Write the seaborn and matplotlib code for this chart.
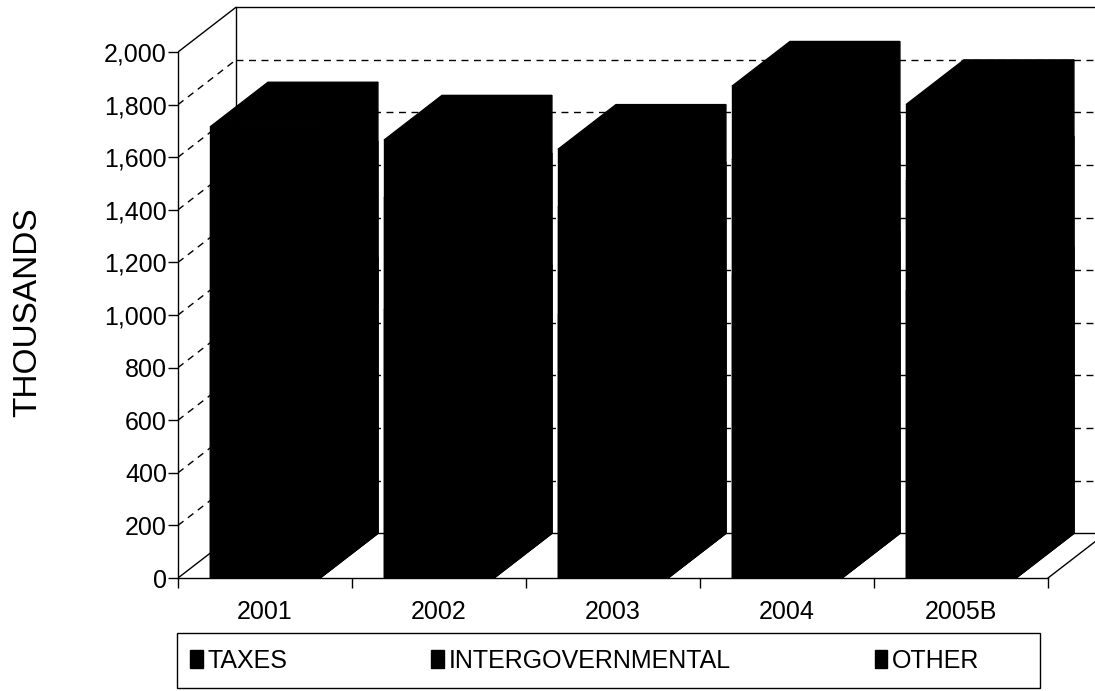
import matplotlib
matplotlib.use("Agg")
import matplotlib.pyplot as plt
import seaborn as sns
import numpy as np
import pandas as pd
from matplotlib.patches import Patch, Polygon, Rectangle

# Revenue by source, in thousands
years = ["2001", "2002", "2003", "2004", "2005B"]
taxes = [1050, 1020, 1000, 1150, 1090]
intergovernmental = [440, 425, 410, 440, 420]
other = [225, 220, 220, 280, 290]
series_names = ["TAXES", "INTERGOVERNMENTAL", "OTHER"]
y_ticks = list(range(0, 2001, 200))

sns.set_theme(style="white")
plt.rcParams["font.family"] = ["Liberation Sans", "DejaVu Sans"]

INK = "black"
BAR_W = 0.632          # front face width, in category units
DX, DY = 0.333, 170    # depth offset of the 3-D box (category units, value units)

df = pd.DataFrame({"year": years, "TAXES": taxes,
                   "INTERGOVERNMENTAL": intergovernmental, "OTHER": other})
cum = df[series_names].cumsum(axis=1)
cum["year"] = df["year"]

fig = plt.figure(figsize=(10.95, 6.91), dpi=100)
ax = fig.add_axes([178 / 1095, 113 / 691, 917 / 1095, 572 / 691])

x0 = -0.5
x_end = len(years) - 0.5
x_lim_right = x0 + 917 / 174
y_lim_top = 572 / 0.263

# box walls: left side wall diagonals, back wall gridlines, floor
dash = (0, (5, 4))
for v in y_ticks:
    ls = "-" if v in (0, y_ticks[-1]) else dash
    ax.plot([x0, x0 + DX], [v, v + DY], color=INK, lw=1, ls=ls, zorder=1)
    ax.plot([x0 + DX, x_lim_right], [v + DY, v + DY], color=INK, lw=1, ls=ls, zorder=1)
ax.plot([x0 + DX, x0 + DX], [DY, y_ticks[-1] + DY], color=INK, lw=1, zorder=1)
ax.plot([x_end, x_end + DX], [0, DY], color=INK, lw=1, zorder=1)

# stacked columns: front faces via seaborn, tallest layer first
for name in reversed(series_names):
    sns.barplot(data=cum, x="year", y=name, order=years, color=INK,
                saturation=1, width=BAR_W, edgecolor=INK, linewidth=1,
                ax=ax, zorder=3)
    for i, top in enumerate(cum[name]):
        left, right = i - BAR_W / 2, i + BAR_W / 2
        ax.add_patch(Polygon([(left, top), (left + DX, top + DY),
                              (right + DX, top + DY), (right, top)],
                             closed=True, fc=INK, ec=INK, lw=1, zorder=3))
        ax.add_patch(Polygon([(right, 0), (right, top), (right + DX, top + DY),
                              (right + DX, DY)],
                             closed=True, fc=INK, ec=INK, lw=1, zorder=3))

ax.set_xlim(x0, x_lim_right)
ax.set_ylim(0, y_lim_top)

for side in ("top", "right"):
    ax.spines[side].set_visible(False)
for side in ("left", "bottom"):
    ax.spines[side].set_color(INK)
    ax.spines[side].set_linewidth(1)
ax.spines["left"].set_bounds(0, y_ticks[-1])
ax.spines["bottom"].set_bounds(x0, x_end)

ax.set_yticks(y_ticks)
ax.set_yticklabels([f"{v:,}" for v in y_ticks])
ax.tick_params(axis="y", left=True, length=7, width=1, color=INK, pad=1,
               labelsize=18, labelcolor=INK)

ax.set_xticks(range(len(years)))
ax.set_xticklabels(years)
ax.set_xticks(np.arange(x0, x_end + 0.01, 1), minor=True)
ax.tick_params(axis="x", which="major", bottom=False, length=0, pad=16,
               labelsize=18, labelcolor=INK)
ax.tick_params(axis="x", which="minor", bottom=True, length=7, width=1, color=INK)

ax.set_xlabel("")
ax.set_ylabel("THOUSANDS", fontsize=24, color=INK)
ax.yaxis.set_label_coords(-0.147, 0.465)

# legend entries placed inside a plain rectangular frame
fig.add_artist(Rectangle((177 / 1095, 3 / 691), 863 / 1095, 55 / 691,
                         transform=fig.transFigure, fill=False, ec=INK, lw=1))
handles = [Patch(facecolor=INK, edgecolor=INK, label=n) for n in series_names]
leg = fig.legend(handles=handles, loc="center left", ncol=3,
                 bbox_to_anchor=(190 / 1095, 30.5 / 691),
                 frameon=False, fontsize=18, handlelength=0.5, handleheight=0.75,
                 handletextpad=0.2, columnspacing=5.75, borderaxespad=0,
                 borderpad=0)
for t in leg.get_texts():
    t.set_color(INK)

fig.savefig("out.png", dpi=100)
